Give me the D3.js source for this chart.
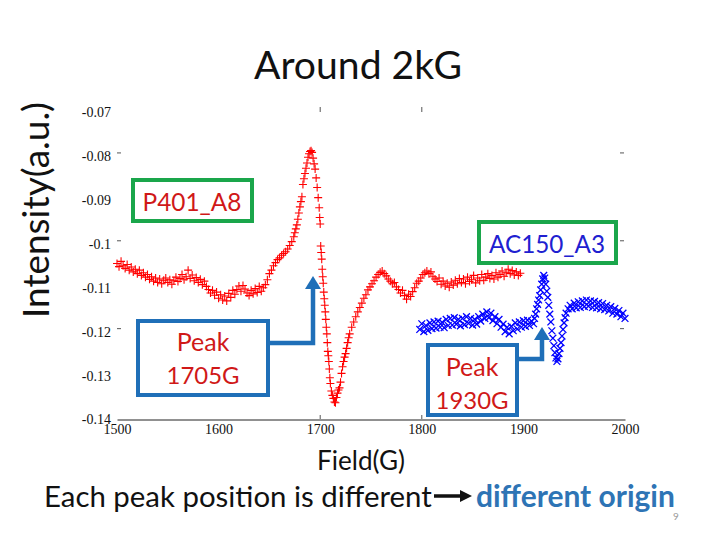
<!DOCTYPE html>
<html><head><meta charset="utf-8">
<script src="https://cdn.jsdelivr.net/npm/d3@7"></script>
<style>body{margin:0;background:#fff}svg{display:block}</style>
</head><body><svg id="c" width="720" height="540"></svg>
<script>
// ---- data ----
const xTicks = [1500, 1600, 1700, 1800, 1900, 2000];
const yTicks = [-0.07, -0.08, -0.09, -0.1, -0.11, -0.12, -0.13, -0.14];
const yTickLabels = ["-0.07", "-0.08", "-0.09", "-0.1", "-0.11", "-0.12", "-0.13", "-0.14"];
const dashTicksY = [-0.08, -0.1, -0.12];
const dashTicksX = [1700, 1800];
const seriesNames = ["P401_A8", "AC150_A3"];
const peakLabels = ["1705G", "1930G"];

// P401_A8 (red, '+') : [field G, intensity]
const p401 = [
[1500,-0.1045],[1502,-0.1052],[1504,-0.1040],[1506,-0.1050],[1508,-0.1056],[1510,-0.1047],[1512,-0.1060],[1514,-0.1053],
[1516,-0.1064],[1518,-0.1058],[1520,-0.1068],[1522,-0.1060],[1524,-0.1072],[1526,-0.1066],[1528,-0.1076],[1530,-0.1070],
[1532,-0.1081],[1534,-0.1075],[1536,-0.1085],[1538,-0.1078],[1540,-0.1088],[1542,-0.1080],[1544,-0.1091],[1546,-0.1083],
[1548,-0.1078],[1550,-0.1088],[1552,-0.1082],[1554,-0.1092],[1556,-0.1084],[1558,-0.1076],[1560,-0.1086],[1562,-0.1079],
[1564,-0.1070],[1566,-0.1082],[1568,-0.1075],[1570,-0.1060],[1572,-0.1079],[1574,-0.1071],[1576,-0.1084],[1578,-0.1077],
[1580,-0.1088],[1582,-0.1081],[1584,-0.1093],[1586,-0.1085],[1588,-0.1097],[1590,-0.1104],[1592,-0.1112],[1594,-0.1106],
[1596,-0.1117],[1598,-0.1110],[1600,-0.1124],[1602,-0.1116],[1604,-0.1128],[1606,-0.1119],[1608,-0.1130],[1610,-0.1113],
[1612,-0.1122],[1614,-0.1106],[1616,-0.1115],[1618,-0.1104],[1620,-0.1096],[1622,-0.1108],[1624,-0.1095],[1626,-0.1103],
[1628,-0.1112],[1630,-0.1118],[1632,-0.1106],[1634,-0.1114],[1636,-0.1102],[1638,-0.1111],[1640,-0.1097],[1642,-0.1108],
[1644,-0.1100],[1646,-0.1093],[1648,-0.1082],[1650,-0.1068],[1652,-0.1060],[1654,-0.1050],[1656,-0.1043],[1658,-0.1036],
[1660,-0.1032],[1662,-0.1026],[1664,-0.1022],[1666,-0.1018],[1668,-0.1012],[1670,-0.1004],[1672,-0.0995],[1674,-0.0984],
[1675,-0.0975],[1676,-0.0966],[1677,-0.0957],[1678,-0.0944],[1679,-0.0930],[1680,-0.0916],[1681,-0.0904],[1682,-0.0893],
[1683,-0.0865],[1684,-0.0852],[1685,-0.0840],[1686,-0.0828],[1687,-0.0816],[1688,-0.0803],[1689,-0.0795],[1690,-0.0790],
[1691,-0.0788],[1692,-0.0792],[1693,-0.0805],[1694,-0.0818],[1695,-0.0830],[1696,-0.0850],[1697,-0.0872],[1698,-0.0895],
[1699,-0.0918],[1699.5,-0.0940],[1700,-0.0955],[1700.5,-0.1005],[1701,-0.1020],[1701.5,-0.1035],[1702,-0.1058],[1702.5,-0.1075],
[1703,-0.1090],[1703.5,-0.1110],[1704,-0.1125],[1704.5,-0.1140],[1705,-0.1155],[1705.5,-0.1172],[1706,-0.1190],[1706.5,-0.1205],
[1707,-0.1225],[1707.5,-0.1245],[1708,-0.1255],[1708.5,-0.1268],[1709,-0.1285],[1709.5,-0.1305],[1710,-0.1318],[1711,-0.1335],
[1712,-0.1345],[1713,-0.1352],[1714,-0.1360],[1715,-0.1362],[1716,-0.1350],[1717,-0.1340],[1718,-0.1333],[1719,-0.1328],
[1720,-0.1315],[1721,-0.1295],[1722,-0.1280],[1723,-0.1268],[1724,-0.1258],[1725,-0.1250],[1726,-0.1238],[1727,-0.1225],
[1728,-0.1214],[1729,-0.1205],[1731,-0.1190],[1733,-0.1178],[1735,-0.1166],[1737,-0.1155],[1739,-0.1145],[1741,-0.1135],
[1743,-0.1124],[1745,-0.1116],[1747,-0.1105],[1749,-0.1098],[1751,-0.1091],[1753,-0.1084],[1755,-0.1076],[1757,-0.1070],
[1759,-0.1065],[1761,-0.1062],[1763,-0.1068],[1765,-0.1073],[1767,-0.1080],[1769,-0.1085],[1771,-0.1091],[1773,-0.1088],
[1775,-0.1098],[1777,-0.1104],[1779,-0.1112],[1781,-0.1106],[1783,-0.1118],[1785,-0.1126],[1787,-0.1115],[1789,-0.1120],
[1791,-0.1109],[1793,-0.1100],[1795,-0.1090],[1797,-0.1085],[1799,-0.1078],[1801,-0.1070],[1803,-0.1066],[1805,-0.1062],
[1807,-0.1068],[1809,-0.1064],[1811,-0.1075],[1813,-0.1080],[1815,-0.1086],[1817,-0.1078],[1819,-0.1092],[1821,-0.1085],
[1823,-0.1096],[1825,-0.1090],[1827,-0.1099],[1829,-0.1087],[1831,-0.1094],[1833,-0.1083],[1835,-0.1091],[1837,-0.1079],
[1839,-0.1088],[1841,-0.1080],[1843,-0.1091],[1845,-0.1076],[1847,-0.1086],[1849,-0.1082],[1851,-0.1072],[1853,-0.1089],
[1855,-0.1078],[1857,-0.1084],[1859,-0.1070],[1861,-0.1083],[1863,-0.1076],[1865,-0.1068],[1867,-0.1079],[1869,-0.1072],
[1871,-0.1080],[1873,-0.1066],[1875,-0.1076],[1877,-0.1070],[1879,-0.1062],[1881,-0.1074],[1883,-0.1066],[1885,-0.1058],
[1887,-0.1068],[1889,-0.1061],[1891,-0.1071],[1893,-0.1064],[1895,-0.1072],[1897,-0.1067]
];

// AC150_A3 (blue, 'x') : [field G, intensity]
const ac150 = [
[1798,-0.1195],[1800,-0.1182],[1802,-0.1200],[1804,-0.1186],[1806,-0.1197],[1808,-0.1180],[1810,-0.1193],[1812,-0.1178],
[1814,-0.1192],[1816,-0.1176],[1818,-0.1190],[1820,-0.1179],[1822,-0.1191],[1824,-0.1172],[1826,-0.1186],[1828,-0.1170],
[1830,-0.1185],[1832,-0.1168],[1834,-0.1183],[1836,-0.1172],[1838,-0.1187],[1840,-0.1170],[1842,-0.1184],[1844,-0.1166],
[1846,-0.1181],[1848,-0.1170],[1850,-0.1185],[1852,-0.1172],[1854,-0.1183],[1856,-0.1166],[1858,-0.1176],[1860,-0.1160],
[1862,-0.1170],[1864,-0.1155],[1866,-0.1168],[1868,-0.1158],[1870,-0.1175],[1872,-0.1166],[1874,-0.1182],[1876,-0.1172],
[1878,-0.1190],[1880,-0.1183],[1882,-0.1200],[1884,-0.1190],[1886,-0.1205],[1888,-0.1188],[1890,-0.1198],[1892,-0.1180],
[1894,-0.1194],[1896,-0.1178],[1898,-0.1190],[1900,-0.1175],[1902,-0.1188],[1904,-0.1174],[1906,-0.1186],[1908,-0.1176],
[1910,-0.1182],[1911,-0.1170],[1912,-0.1160],[1913,-0.1148],[1914,-0.1138],[1915,-0.1128],[1916,-0.1118],[1917,-0.1105],
[1918,-0.1092],[1919,-0.1080],[1920,-0.1072],[1921,-0.1078],[1922,-0.1092],[1923,-0.1108],[1924,-0.1122],[1925,-0.1140],
[1926,-0.1160],[1927,-0.1178],[1928,-0.1198],[1929,-0.1215],[1930,-0.1232],[1931,-0.1248],[1932,-0.1260],[1933,-0.1268],
[1934,-0.1262],[1935,-0.1250],[1936,-0.1238],[1937,-0.1225],[1938,-0.1210],[1939,-0.1195],[1940,-0.1180],[1941,-0.1168],
[1942,-0.1158],[1944,-0.1148],[1946,-0.1140],[1948,-0.1148],[1950,-0.1135],[1952,-0.1146],[1954,-0.1132],[1956,-0.1145],
[1958,-0.1130],[1960,-0.1143],[1962,-0.1128],[1964,-0.1142],[1966,-0.1130],[1968,-0.1145],[1970,-0.1131],[1972,-0.1146],
[1974,-0.1134],[1976,-0.1148],[1978,-0.1136],[1980,-0.1150],[1982,-0.1140],[1984,-0.1153],[1986,-0.1143],[1988,-0.1158],
[1990,-0.1147],[1992,-0.1160],[1994,-0.1152],[1996,-0.1166],[1998,-0.1158],[2000,-0.1170]
];

// ---- drawing ----
const svg = d3.select("#c");
const x = d3.scaleLinear().domain([1500, 2000]).range([117, 625]);
const y = d3.scaleLinear().domain([-0.14, -0.07]).range([419.5, 112]);
const sans = "Lato, 'Open Sans', sans-serif";
const serif = "'Liberation Serif', 'DejaVu Serif', serif";
const RED = "#ff0000", BLUE = "#0000ff", GREEN = "#1aa64b", ABLUE = "#1f6fb8", TRED = "#d01818";

function fit(t, w) {
  const l = t.node().getComputedTextLength();
  const fs = parseFloat(t.attr("font-size"));
  t.attr("font-size", fs * w / l);
  return t;
}

// title
fit(svg.append("text").attr("x", 358).attr("y", 79).attr("text-anchor", "middle")
  .attr("font-family", sans).attr("font-size", 36).attr("fill", "#111").text("Around 2kG"), 208);

// y label
fit(svg.append("text").attr("transform", "translate(49,210) rotate(-90)").attr("text-anchor", "middle")
  .attr("font-family", sans).attr("font-size", 20).attr("fill", "#111").text("Intensity(a.u.)"), 216);

// bottom axis
const xAxis = d3.axisBottom(x).tickValues(xTicks).tickSize(0).tickPadding(5).tickFormat(d3.format("d"));
const gx = svg.append("g").attr("transform", "translate(0,419.5)").call(xAxis);
gx.attr("font-family", null).attr("font-size", null);
gx.select(".domain").attr("stroke", "#222").attr("stroke-width", 1);
gx.selectAll("text").style("font-family", serif).style("font-size", "14px").attr("fill", "#111");

// y tick labels
const yAxis = d3.axisLeft(y).tickValues(yTicks).tickSize(0).tickPadding(6)
  .tickFormat((d, i) => yTickLabels[i]);
const gy = svg.append("g").attr("transform", "translate(117,0)").call(yAxis);
gy.attr("font-family", null).attr("font-size", null);
gy.select(".domain").remove();
gy.selectAll("text").style("font-family", serif).style("font-size", "14px").attr("fill", "#111");

// faint dash ticks
const tg = svg.append("g").attr("stroke", "#555").attr("stroke-width", 1);
dashTicksY.forEach(v => {
  tg.append("line").attr("x1", x(1500)).attr("x2", x(1500) + 4).attr("y1", y(v) - 3).attr("y2", y(v) - 3);
  tg.append("line").attr("x1", x(2000) - 5).attr("x2", x(2000) - 1).attr("y1", y(v) - 3).attr("y2", y(v) - 3);
});
dashTicksX.forEach(v => {
  tg.append("line").attr("x1", x(v)).attr("x2", x(v)).attr("y1", 107).attr("y2", 112);
  tg.append("line").attr("x1", x(v)).attr("x2", x(v)).attr("y1", 419).attr("y2", 415);
});

// series
const plus = "M-4,0H4M0,-4V4";
const cross = "M-3.4,-3.4L3.4,3.4M-3.4,3.4L3.4,-3.4";
svg.append("g").selectAll("path").data(p401).join("path")
  .attr("transform", d => `translate(${x(d[0])},${y(d[1])})`)
  .attr("d", plus).attr("stroke", RED).attr("stroke-width", 1.1).attr("fill", "none");
svg.append("g").selectAll("path").data(ac150).join("path")
  .attr("transform", d => `translate(${x(d[0])},${y(d[1])})`)
  .attr("d", cross).attr("stroke", BLUE).attr("stroke-width", 1.3).attr("fill", "none");

// annotation boxes
function box(x0, y0, w, h, color) {
  svg.append("rect").attr("x", x0).attr("y", y0).attr("width", w).attr("height", h)
    .attr("fill", "#fff").attr("stroke", color).attr("stroke-width", 4);
}
function label(cx, cy, txt, color, fs) {
  return svg.append("text").attr("x", cx).attr("y", cy).attr("text-anchor", "middle")
    .attr("dominant-baseline", "central").attr("font-family", sans).attr("font-size", fs)
    .attr("fill", color).text(txt);
}
box(133, 180, 119, 41, GREEN);
fit(label(192, 201, seriesNames[0], TRED, 24), 99);
box(479, 222, 137, 41, GREEN);
fit(label(547, 243, seriesNames[1], "#2020d0", 22), 116);

box(138, 321, 130, 74, ABLUE);
label(203, 341, "Peak", TRED, 25);
fit(label(203, 374, peakLabels[0], TRED, 24), 73);
box(428, 345, 89, 70, ABLUE);
label(472, 366, "Peak", TRED, 25);
fit(label(472, 399, peakLabels[1], TRED, 24), 73);

// elbow arrows
function elbow(x0, yh, xv, ytop) {
  svg.append("path").attr("d", `M${x0},${yh}H${xv}V${ytop + 11}`)
    .attr("fill", "none").attr("stroke", ABLUE).attr("stroke-width", 4.5);
  svg.append("path").attr("d", `M${xv - 8},${ytop + 13}L${xv},${ytop}L${xv + 8},${ytop + 13}Z`)
    .attr("fill", ABLUE);
}
elbow(268, 343, 313, 276);
elbow(517, 359, 542, 327);

// bottom texts
fit(svg.append("text").attr("x", 361).attr("y", 470).attr("text-anchor", "middle")
  .attr("font-family", sans).attr("font-size", 22).attr("fill", "#111").text("Field(G)"), 88);
fit(svg.append("text").attr("x", 44).attr("y", 507)
  .attr("font-family", sans).attr("font-size", 27).attr("fill", "#111").text("Each peak position is different"), 388);
svg.append("line").attr("x1", 434).attr("x2", 462).attr("y1", 496).attr("y2", 496)
  .attr("stroke", "#111").attr("stroke-width", 3.5);
svg.append("path").attr("d", "M460,490L472,496L460,502Z").attr("fill", "#111");
fit(svg.append("text").attr("x", 476).attr("y", 507)
  .attr("font-family", sans).attr("font-size", 27).attr("font-weight", "bold").attr("fill", "#2e74b5")
  .text("different origin"), 199);
svg.append("text").attr("x", 673).attr("y", 520).attr("font-family", sans).attr("font-size", 10)
  .attr("fill", "#999").text("9");
</script></body></html>
